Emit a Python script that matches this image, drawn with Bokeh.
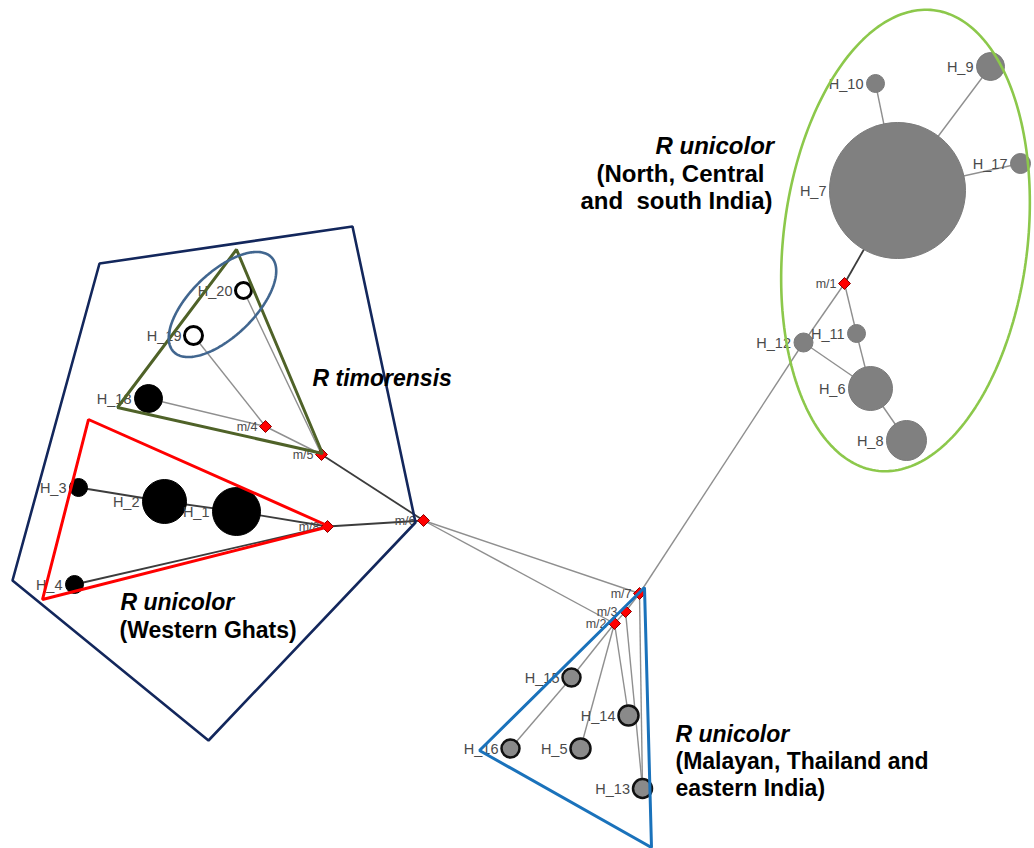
import numpy as np
from bokeh.plotting import figure
from bokeh.models import Range1d, ColumnDataSource
from bokeh.core.properties import value
from bokeh.embed import file_html
from bokeh.resources import INLINE

# Haplotype nodes: name, position on the network layout, node radius, group
hap_names = ["H_1", "H_2", "H_3", "H_4", "H_18",
             "H_19", "H_20",
             "H_6", "H_7", "H_8", "H_9", "H_10", "H_11", "H_12", "H_17",
             "H_5", "H_13", "H_14", "H_15", "H_16"]
hap_x = [236, 164, 78, 74, 148,
         193, 243,
         870, 897, 906, 990, 875, 856, 803, 1020,
         580, 642, 628, 571, 510]
hap_y = [511, 501, 487, 584, 398,
         335, 290,
         388, 190, 440, 66, 83, 333, 342, 163,
         748, 788, 715, 677, 748]
hap_r = [24, 22, 9, 9, 14,
         9, 8,
         22, 68, 20, 14, 9, 9, 9.5, 10,
         10, 9.5, 10, 9, 9]
hap_group = ["wg"] * 5 + ["open"] * 2 + ["north"] * 8 + ["malay"] * 5

# Median vectors
mv_names = ["m/1", "m/2", "m/3", "m/4", "m/5", "m/6", "m/7", "m/8"]
mv_x = [844, 614, 625, 265, 321, 423, 639, 327]
mv_y = [283, 623, 611, 426, 454, 520, 593, 526]

# Network links
dark_links = [("m/6", "m/5"), ("m/6", "m/8"), ("m/8", "H_1"), ("H_1", "H_2"),
              ("H_2", "H_3"), ("m/8", "H_4"), ("m/1", "H_7")]
light_links = [("m/5", "m/4"), ("m/4", "H_18"), ("m/4", "H_19"), ("m/5", "H_20"),
               ("m/6", "m/7"), ("m/6", "m/2"), ("m/7", "m/3"), ("m/3", "m/2"),
               ("m/7", "H_12"), ("H_12", "m/1"), ("m/1", "H_11"), ("H_11", "H_6"),
               ("H_12", "H_6"), ("H_6", "H_8"), ("H_7", "H_10"), ("H_7", "H_9"),
               ("H_7", "H_17"), ("m/2", "H_15"), ("H_15", "H_16"), ("m/2", "H_5"),
               ("m/2", "H_14"), ("m/3", "H_13"), ("m/7", "H_13")]

# Group outlines
pentagon_x = [99, 352, 415, 208, 12]
pentagon_y = [263, 226, 522, 740, 580]
olive_tri_x = [236, 117, 322]
olive_tri_y = [249, 407, 453]
red_tri_x = [88, 42, 329]
red_tri_y = [419, 599, 526]
blue_tri_x = [644, 479, 651]
blue_tri_y = [587, 750, 847]

group_style = {
    "wg": dict(fill="#000000", line="#000000", lw=1),
    "open": dict(fill="#ffffff", line="#000000", lw=3),
    "north": dict(fill="#808080", line="#7a7a7a", lw=1),
    "malay": dict(fill="#8a8a8a", line="#111111", lw=2.5),
}

W, H = 1034, 848
p = figure(width=W, height=H, x_range=Range1d(0, W), y_range=Range1d(H, 0),
           output_backend="svg", toolbar_location=None, min_border=0)
p.axis.visible = False
p.grid.visible = False
p.outline_line_color = None
p.background_fill_color = "white"
p.border_fill_color = "white"

pos = {n: (x, y) for n, x, y in zip(hap_names, hap_x, hap_y)}
pos.update({n: (x, y) for n, x, y in zip(mv_names, mv_x, mv_y)})


def link_coords(links):
    return ([[pos[a][0], pos[b][0]] for a, b in links],
            [[pos[a][1], pos[b][1]] for a, b in links])


lx, ly = link_coords(light_links)
p.multi_line(lx, ly, line_color="#8f8f8f", line_width=1.4)
dx, dy = link_coords(dark_links)
p.multi_line(dx, dy, line_color="#3c3c3c", line_width=1.8)

# Haplotype circles
for g, st in group_style.items():
    idx = [i for i, gg in enumerate(hap_group) if gg == g]
    src = ColumnDataSource(dict(x=[hap_x[i] for i in idx], y=[hap_y[i] for i in idx],
                                r=[hap_r[i] for i in idx]))
    p.circle("x", "y", radius="r", source=src, fill_color=st["fill"],
             line_color=st["line"], line_width=st["lw"])

# Median vectors as small red diamonds
p.scatter(mv_x, mv_y, marker="square", size=8.5, angle=np.pi / 4,
          fill_color="#ff0000", line_color="#8b0000", line_width=1)

# Node labels, right-aligned to the left of each node
hap_src = ColumnDataSource(dict(
    x=[x - r - 3 for x, r in zip(hap_x, hap_r)], y=hap_y, t=hap_names))
p.text("x", "y", text="t", source=hap_src, text_align="right",
       text_baseline="middle", text_font=value("Liberation Sans"),
       text_font_size="14.5px", text_color="#4a4a4a")
mv_src = ColumnDataSource(dict(x=[x - 8 for x in mv_x], y=mv_y, t=mv_names))
p.text("x", "y", text="t", source=mv_src, text_align="right",
       text_baseline="middle", text_font=value("Liberation Sans"),
       text_font_size="12.5px", text_color="#4a4a4a")

# Group outlines (drawn on top)
p.patch(pentagon_x, pentagon_y, fill_color=None, line_color="#13275c", line_width=2.6)
p.patch(olive_tri_x, olive_tri_y, fill_color=None, line_color="#4f6228", line_width=3)
p.patch(red_tri_x, red_tri_y, fill_color=None, line_color="#ff0000", line_width=3)
p.patch(blue_tri_x, blue_tri_y, fill_color=None, line_color="#1a72bb", line_width=3)


def ellipse_outline(cx, cy, a, b, ux, uy):
    t = np.linspace(0, 2 * np.pi, 240)
    nx, ny = -uy, ux
    return (cx + a * np.cos(t) * ux + b * np.sin(t) * nx,
            cy + a * np.cos(t) * uy + b * np.sin(t) * ny)


ang = np.radians(-44)
ex, ey = ellipse_outline(222, 304, 68, 32, np.cos(ang), np.sin(ang))
p.patch(ex, ey, fill_color=None, line_color="#41668f", line_width=2.6)
tilt = np.radians(7)
gx, gy = ellipse_outline(905, 240, 232, 122, np.sin(tilt), -np.cos(tilt))
p.patch(gx, gy, fill_color=None, line_color="#8cc84b", line_width=2.6)

# Group captions
cap_x = [312, 120, 119, 655, 596, 580, 675, 675, 675]
cap_y = [377, 601, 629, 145, 173, 200, 733, 760, 787]
cap_text = ["R timorensis", "R unicolor", "(Western Ghats)",
            "R unicolor", "(North, Central", "and\u00a0 south India)",
            "R unicolor", "(Malayan, Thailand and", "eastern India)"]
cap_style = ["bold italic", "bold italic", "bold",
             "bold italic", "bold", "bold",
             "bold italic", "bold", "bold"]
cap_size = ["23px", "23px", "23px", "24px", "24px", "24px", "23px", "23px", "23px"]
for st in ("bold italic", "bold"):
    idx = [i for i, s in enumerate(cap_style) if s == st]
    src = ColumnDataSource(dict(x=[cap_x[i] for i in idx], y=[cap_y[i] for i in idx],
                                t=[cap_text[i] for i in idx],
                                fs=[cap_size[i] for i in idx]))
    p.text("x", "y", text="t", source=src, text_align="left", text_baseline="middle",
           text_font=value("Liberation Sans"), text_font_style=st,
           text_font_size="fs", text_color="#000000")

open("out.html", "w").write(file_html(p, INLINE))
